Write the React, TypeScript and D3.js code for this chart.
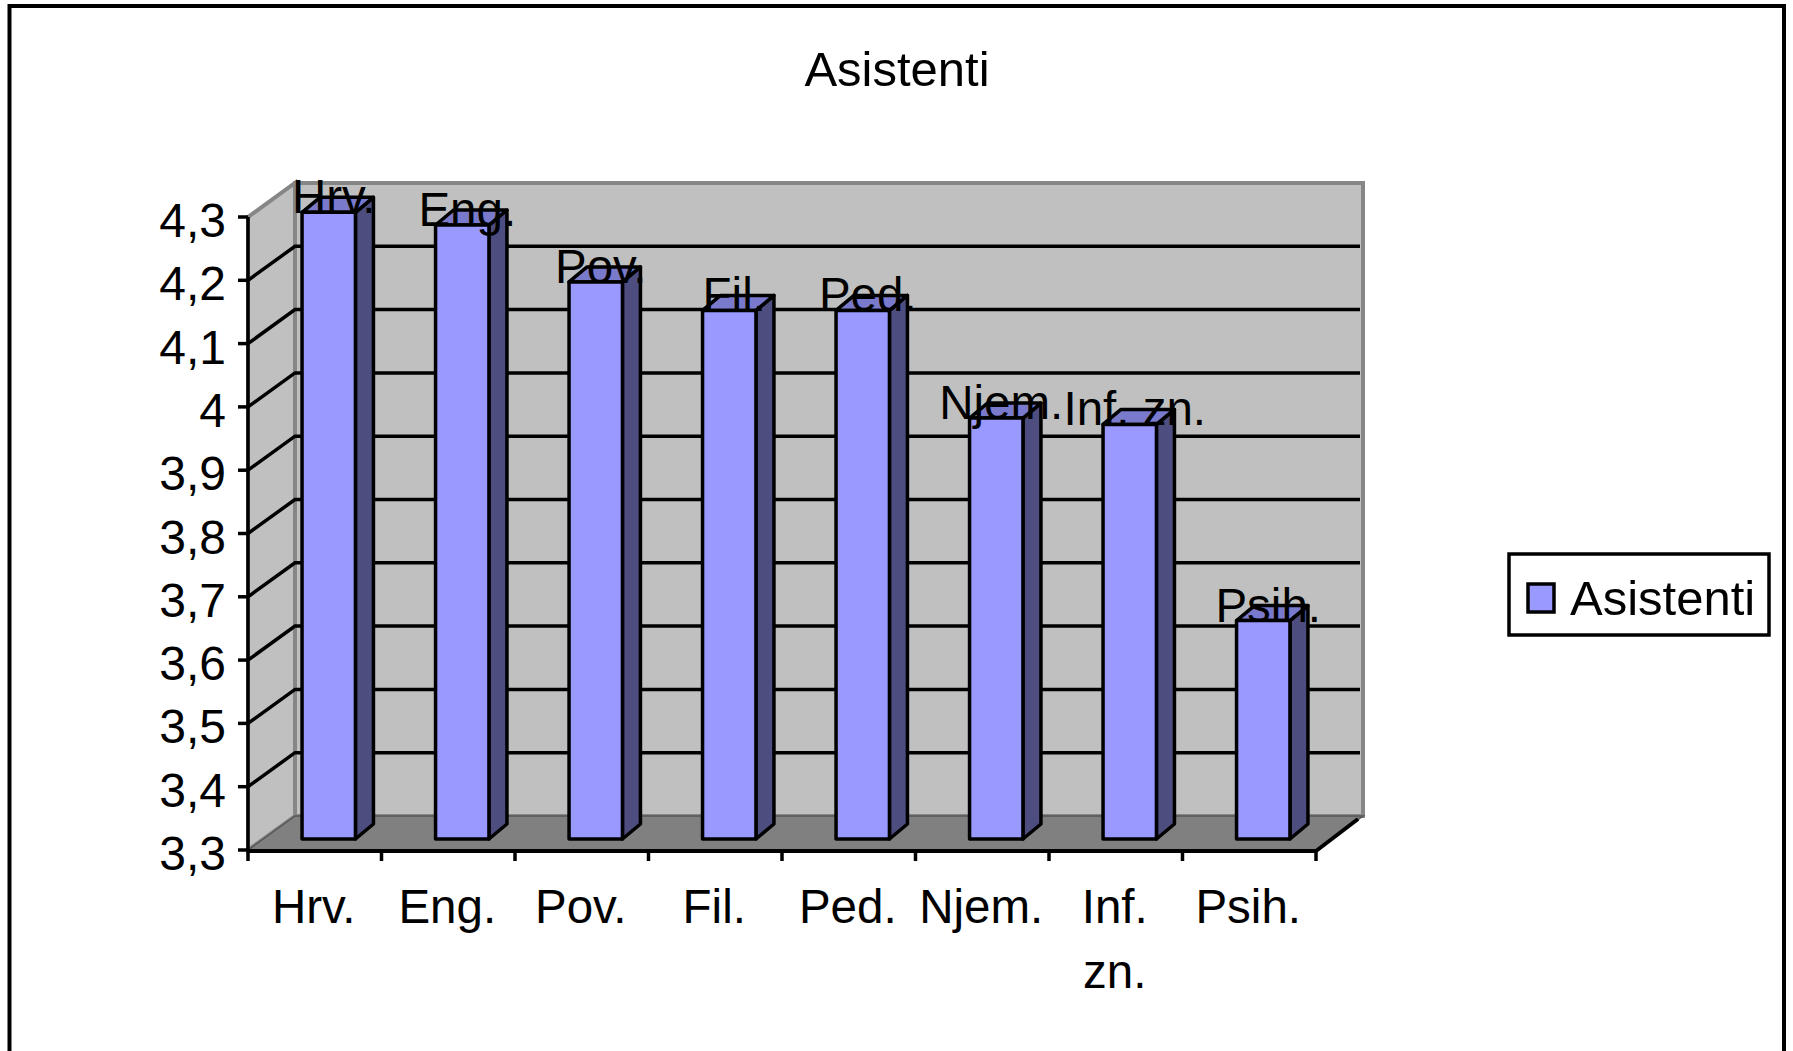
import React from "react";
import * as d3 from "d3";

const width = 1793;
const height = 1051;

const categories = ["Hrv.", "Eng.", "Pov.", "Fil.", "Ped.", "Njem.", "Inf. zn.", "Psih."];
const values = [4.29, 4.27, 4.18, 4.135, 4.135, 3.965, 3.955, 3.645];
const yTicks = [3.3, 3.4, 3.5, 3.6, 3.7, 3.8, 3.9, 4, 4.1, 4.2, 4.3];
const seriesName = "Asistenti";
const chartTitle = "Asistenti";

const FONT = "'Liberation Sans', Arial, sans-serif";
const wallDepth = { x: 47, y: -34 };
const barDepth = { x: 18, y: -15 };
const barShift = { x: 14, y: -11 };

const xScale = d3
  .scaleBand<string>()
  .domain(categories)
  .range([248, 1316])
  .paddingInner(0.6)
  .paddingOuter(0.3);
const xTicks = d3.scaleLinear().domain([0, categories.length]).range([248, 1316]);
const yScale = d3.scaleLinear().domain([3.3, 4.3]).range([850, 217]);

const poly = (pts: [number, number][]) => d3.line()(pts) + "Z";
const tickText = (d: number) => String(d).replace(".", ",");

const x0 = xTicks(0);
const x1 = xTicks(categories.length);
const yb = yScale(3.3);
const yt = yScale(4.3);

export default function App() {
  return (
    <svg
      width={width}
      height={height}
      style={{ position: "absolute", left: 0, top: 0, background: "#fff" }}
      fontFamily={FONT}
    >
      <rect x={9.5} y={6} width={1774.5} height={1100} fill="none" stroke="#000" strokeWidth={4} />

      <text x={897} y={86} textAnchor="middle" fontSize={49}>
        {chartTitle}
      </text>

      {/* walls and floor */}
      <path
        d={poly([[x0 + wallDepth.x, yt + wallDepth.y], [x1 + wallDepth.x, yt + wallDepth.y], [x1 + wallDepth.x, yb + wallDepth.y], [x0 + wallDepth.x, yb + wallDepth.y]])}
        fill="#c0c0c0"
        stroke="#868686"
        strokeWidth={4}
      />
      <path
        d={poly([[x0, yt], [x0 + wallDepth.x, yt + wallDepth.y], [x0 + wallDepth.x, yb + wallDepth.y], [x0, yb]])}
        fill="#c0c0c0"
        stroke="#868686"
        strokeWidth={4}
      />
      <path
        d={poly([[x0, yb], [x0 + wallDepth.x, yb + wallDepth.y], [x1 + wallDepth.x, yb + wallDepth.y], [x1, yb]])}
        fill="#808080"
        stroke="#555"
        strokeWidth={1.5}
      />

      {/* gridlines */}
      {yTicks.slice(1, -1).map((t) => (
        <path
          key={t}
          d={d3.line()([
            [x0, yScale(t)],
            [x0 + wallDepth.x, yScale(t) + wallDepth.y],
            [x1 + wallDepth.x - 3, yScale(t) + wallDepth.y],
          ]) as string}
          fill="none"
          stroke="#000"
          strokeWidth={3.5}
        />
      ))}

      {/* axes */}
      <line x1={x0} x2={x0} y1={yt} y2={yb} stroke="#000" strokeWidth={3.5} />
      <line x1={x0 - 1} x2={x1 + 1} y1={yb + 1} y2={yb + 1} stroke="#000" strokeWidth={4} />
      <line x1={x1} x2={x1 + wallDepth.x - 5} y1={yb + 1} y2={yb + wallDepth.y + 3} stroke="#000" strokeWidth={4} />
      {yTicks.map((t) => (
        <g key={t}>
          <line x1={x0 - 10} x2={x0} y1={yScale(t)} y2={yScale(t)} stroke="#000" strokeWidth={3.5} />
          <text x={226} y={yScale(t) + 20} textAnchor="end" fontSize={48}>
            {tickText(t)}
          </text>
        </g>
      ))}
      {d3.range(categories.length + 1).map((i) => (
        <line key={i} x1={xTicks(i)} x2={xTicks(i)} y1={yb} y2={yb + 11} stroke="#000" strokeWidth={3.5} />
      ))}
      {categories.map((c, i) => {
        const cx = (xTicks(i) + xTicks(i + 1)) / 2 - 1;
        return (
          <text key={c} textAnchor="middle" fontSize={47.5}>
            {c.split(" ").map((part, j) => (
              <tspan key={part} x={cx} y={923 + j * 65}>
                {part}
              </tspan>
            ))}
          </text>
        );
      })}

      {/* bars */}
      {categories.map((c, i) => {
        const left = (xScale(c) as number) + barShift.x;
        const right = left + xScale.bandwidth();
        const top = yScale(values[i]) + barShift.y;
        const base = yb + barShift.y;
        return (
          <g key={c} stroke="#000" strokeWidth={3.5} strokeLinejoin="round">
            <path
              d={poly([[right, top], [right + barDepth.x, top + barDepth.y], [right + barDepth.x, base + barDepth.y], [right, base]])}
              fill="#4d4d80"
            />
            <path
              d={poly([[left, top], [left + barDepth.x, top + barDepth.y], [right + barDepth.x, top + barDepth.y], [right, top]])}
              fill="#7a7acc"
            />
            <rect x={left} y={top} width={xScale.bandwidth()} height={base - top} fill="#9999ff" />
          </g>
        );
      })}

      {/* data labels */}
      {categories.map((c, i) => (
        <text
          key={c}
          x={(xScale(c) as number) + barShift.x + xScale.bandwidth() / 2 + 5}
          y={yScale(values[i]) + barShift.y + 1}
          textAnchor="middle"
          fontSize={47.5}
        >
          {c}
        </text>
      ))}

      {/* legend */}
      <rect x={1509} y={554} width={260} height={81} fill="#fff" stroke="#000" strokeWidth={3.5} />
      <rect x={1528} y={584} width={26} height={28} fill="#9999ff" stroke="#000" strokeWidth={3.5} />
      <text x={1570} y={615} fontSize={49}>
        {seriesName}
      </text>
    </svg>
  );
}
